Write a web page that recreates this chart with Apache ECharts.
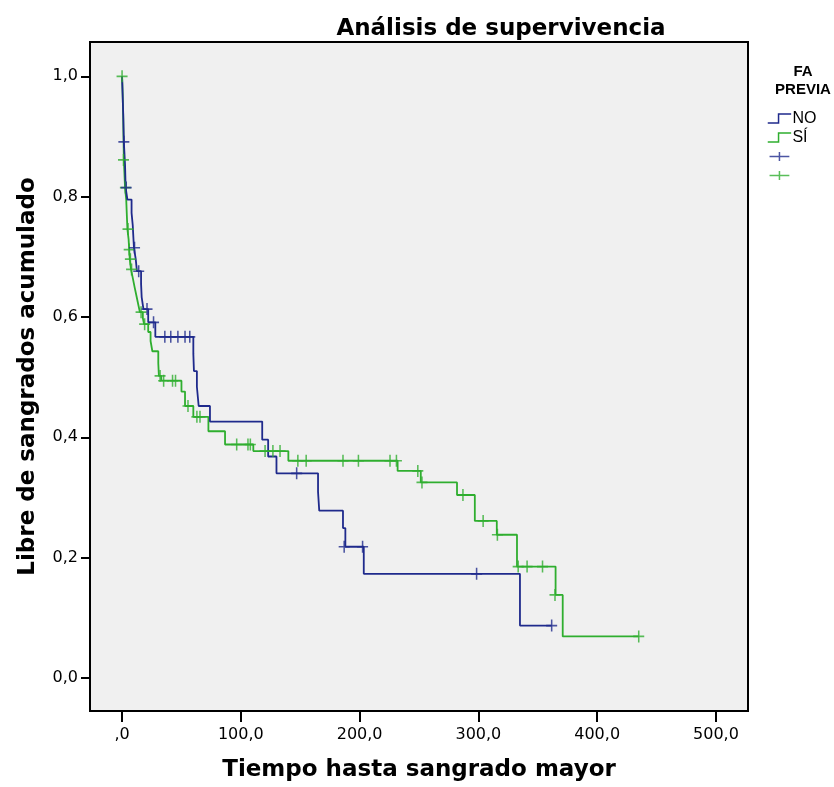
<!DOCTYPE html>
<html>
<head>
<meta charset="utf-8">
<script src="https://cdn.jsdelivr.net/npm/echarts@6/dist/echarts.min.js"></script>
<style>
  html, body { margin: 0; padding: 0; background: #ffffff; }
  #chart { width: 834px; height: 787px; }
</style>
</head>
<body>
<div id="chart"></div>
<script>
// Kaplan-Meier estimates: time of each drop and survival after it
const noEventTimes = [1, 1.5, 2.5, 3, 4.5, 8, 9, 9.5, 10, 11.5, 12.5, 16, 16.5, 18, 22, 28,
  60, 60.5, 63, 64.5, 74, 118, 123, 130, 165, 166, 186, 188, 203.5, 335];
const noSurvival = [0.935, 0.891, 0.853, 0.815, 0.795, 0.773, 0.752, 0.733, 0.715, 0.696, 0.676, 0.655, 0.633, 0.613, 0.591, 0.567,
  0.539, 0.510, 0.484, 0.452, 0.426, 0.396, 0.368, 0.340, 0.309, 0.278, 0.249, 0.218, 0.173, 0.087];
const noCensorTimes = [1.5, 3.5, 10.5, 14, 21, 26.5, 36, 41, 47, 53, 57, 147, 187, 202.5, 298.5, 361.7];
const noCensorSurv = [0.891, 0.815, 0.715, 0.676, 0.613, 0.591, 0.567, 0.567, 0.567, 0.567, 0.567, 0.340, 0.218, 0.218, 0.173, 0.087];

const siEventTimes = [0.5, 1, 1.2, 1.5, 2, 2.5, 3.5, 4, 4.5, 5.5, 6, 6.5, 7.5, 9, 10.5, 12, 13.5, 15, 17.5, 18.5,
  22, 24, 25.5, 30.5, 31, 33, 50, 53, 60, 72.7, 86.7, 110.5, 140, 232, 251.5, 282, 297, 315.5, 332.5, 365, 371];
const siSurvival = [0.97, 0.93, 0.90, 0.861, 0.838, 0.815, 0.795, 0.77, 0.746, 0.729, 0.712, 0.696, 0.679, 0.665, 0.650, 0.636, 0.622, 0.608, 0.598, 0.588,
  0.575, 0.56, 0.543, 0.523, 0.502, 0.494, 0.476, 0.452, 0.434, 0.410, 0.388, 0.377, 0.361, 0.344, 0.325, 0.304, 0.261, 0.238, 0.185, 0.138, 0.069];
const siCensorTimes = [0, 1.2, 2.8, 5, 6, 7, 8, 16, 19, 32, 35, 42.5, 45, 55.5, 63, 65.6, 96.5, 106, 108,
  120.4, 127, 133, 148, 155, 186, 199, 225.6, 231, 249, 252.5, 287, 304, 316, 333.5, 341, 354, 364.5, 435];
const siCensorSurv = [1.0, 0.861, 0.815, 0.746, 0.712, 0.696, 0.679, 0.608, 0.588, 0.502, 0.494, 0.494, 0.494, 0.452, 0.434, 0.434, 0.388, 0.388, 0.388,
  0.377, 0.377, 0.377, 0.361, 0.361, 0.361, 0.361, 0.361, 0.361, 0.344, 0.325, 0.304, 0.261, 0.238, 0.185, 0.185, 0.185, 0.138, 0.069];

const xTicks = [0, 100, 200, 300, 400, 500];
const yTicks = [0, 0.2, 0.4, 0.6, 0.8, 1.0];

const BLUE = '#1f2a8c';
const GREEN = '#2fae2f';
const plusPath = 'path://M5,0 L5,10 M0,5 L10,5';
const plusIcon = 'path://M11,0 L11,10 M0,5 L22,5';
const stepIcon = 'path://M0,10 L12,10 L12,0 L26,0';
const FONT = 'DejaVu Sans';
const LEGEND_FONT = 'Liberation Sans';

// step curve: starts at (0, 1), drops at each event, runs on to the last follow-up time
function stepCurve(times, surv, censorTimes) {
  const pts = [[0, 1]];
  times.forEach((t, i) => pts.push([t, surv[i]]));
  const lastT = Math.max(...censorTimes);
  const lastS = surv[surv.length - 1];
  if (lastT > times[times.length - 1]) pts.push([lastT, lastS]);
  return pts;
}
function pairs(xs, ys) { return xs.map((x, i) => [x, ys[i]]); }

const chart = echarts.init(document.getElementById('chart'), null, { renderer: 'canvas' });

chart.setOption({
  backgroundColor: '#ffffff',
  animation: false,
  title: [
    {
      text: 'Análisis de supervivencia',
      left: 496, top: 13, textAlign: 'center',
      textStyle: { fontFamily: FONT, fontWeight: 'bold', fontSize: 23, color: '#000' }
    },
    {
      text: 'FA\nPREVIA',
      left: 798, top: 58, textAlign: 'center',
      textStyle: { fontFamily: LEGEND_FONT, fontWeight: 'bold', fontSize: 15, color: '#000', lineHeight: 18 }
    }
  ],
  legend: {
    orient: 'vertical',
    left: 762, top: 105,
    itemWidth: 26, itemHeight: 9, itemGap: 2,
    textStyle: { fontFamily: LEGEND_FONT, fontSize: 16, color: '#000', padding: [0, 0, 0, -5], lineHeight: 17 },
    formatter: name => (name === 'NO' || name === 'SÍ') ? name : '\u00a0',
    data: [
      { name: 'NO', icon: stepIcon, itemStyle: { color: 'rgba(0,0,0,0)', borderColor: BLUE, borderWidth: 1.5 } },
      { name: 'SÍ', icon: stepIcon, itemStyle: { color: 'rgba(0,0,0,0)', borderColor: GREEN, borderWidth: 1.5 } },
      { name: 'NO censurado', icon: plusIcon, itemStyle: { color: 'rgba(0,0,0,0)', borderColor: BLUE, borderWidth: 1.5 } },
      { name: 'SÍ censurado', icon: plusIcon, itemStyle: { color: 'rgba(0,0,0,0)', borderColor: GREEN, borderWidth: 1.5 } }
    ]
  },
  grid: {
    left: 90, right: 86, top: 42, bottom: 73,
    show: true, backgroundColor: '#f0f0f0', borderColor: '#000', borderWidth: 2
  },
  xAxis: {
    type: 'value', min: -27, max: 527,
    name: 'Tiempo hasta sangrado mayor', nameLocation: 'middle', nameGap: 48,
    nameTextStyle: { fontFamily: FONT, fontWeight: 'bold', fontSize: 23, color: '#000' },
    axisLine: { show: true, onZero: false, lineStyle: { color: '#000', width: 2 } },
    axisTick: { show: true, customValues: xTicks, length: 11, lineStyle: { color: '#000', width: 2 } },
    axisLabel: {
      customValues: xTicks, margin: 16,
      fontFamily: FONT, fontSize: 16, color: '#000',
      formatter: v => v === 0 ? ',0' : v.toFixed(1).replace('.', ',')
    },
    splitLine: { show: false }
  },
  yAxis: {
    type: 'value', min: -0.055, max: 1.057,
    name: 'Libre de sangrados acumulado', nameLocation: 'middle', nameGap: 50, nameRotate: 90,
    nameTextStyle: { fontFamily: FONT, fontWeight: 'bold', fontSize: 23, color: '#000' },
    axisLine: { show: true, onZero: false, lineStyle: { color: '#000', width: 2 } },
    axisTick: { show: true, customValues: yTicks, length: 9, lineStyle: { color: '#000', width: 2 } },
    axisLabel: {
      customValues: yTicks, margin: 12,
      fontFamily: FONT, fontSize: 16, color: '#000',
      formatter: v => v.toFixed(1).replace('.', ',')
    },
    splitLine: { show: false }
  },
  series: [
    {
      name: 'NO', type: 'line', step: 'end', showSymbol: false, symbol: 'none',
      data: stepCurve(noEventTimes, noSurvival, noCensorTimes),
      lineStyle: { color: BLUE, width: 1.8 }, itemStyle: { color: BLUE }, z: 3
    },
    {
      name: 'SÍ', type: 'line', step: 'end', showSymbol: false, symbol: 'none',
      data: stepCurve(siEventTimes, siSurvival, siCensorTimes),
      lineStyle: { color: GREEN, width: 1.8 }, itemStyle: { color: GREEN }, z: 2
    },
    {
      name: 'NO censurado', type: 'scatter', symbol: plusPath, symbolSize: [11, 12],
      data: pairs(noCensorTimes, noCensorSurv),
      itemStyle: { color: 'rgba(0,0,0,0)', borderColor: BLUE, borderWidth: 1.6 }, z: 4
    },
    {
      name: 'SÍ censurado', type: 'scatter', symbol: plusPath, symbolSize: [11, 12],
      data: pairs(siCensorTimes, siCensorSurv),
      itemStyle: { color: 'rgba(0,0,0,0)', borderColor: GREEN, borderWidth: 1.6 }, z: 3
    }
  ]
});
</script>
</body>
</html>
